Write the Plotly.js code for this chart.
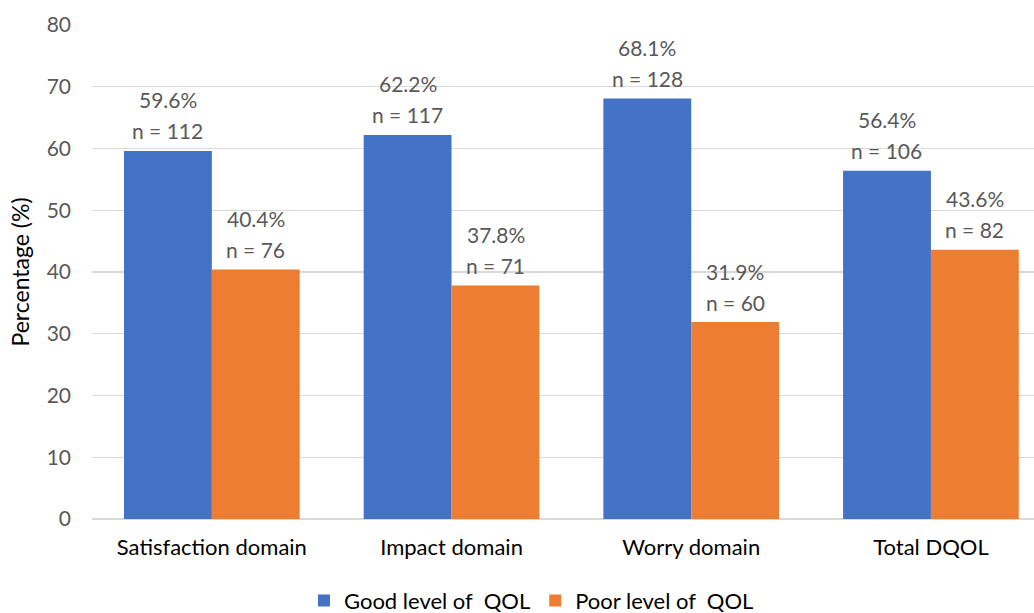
<!DOCTYPE html>
<html>
<head>
<meta charset="utf-8">
<script src="https://cdn.plot.ly/plotly-3.0.1.min.js"></script>
<style>html,body{margin:0;padding:0;background:#fff;}#chart{width:1034px;height:613px;}</style>
</head>
<body>
<div id="chart"></div>
<script>
const categories = ["Satisfaction domain", "Impact domain", "Worry domain", "Total DQOL"];
const goodPct = [59.6, 62.2, 68.1, 56.4];
const goodN = [112, 117, 128, 106];
const poorPct = [40.4, 37.8, 31.9, 43.6];
const poorN = [76, 71, 60, 82];
const seriesNames = ["Good level of  QOL", "Poor level of  QOL"];
const yTicks = [0, 10, 20, 30, 40, 50, 60, 70, 80];

const FONT = "Lato, 'Liberation Sans', sans-serif";
const FS = 22;
const colors = ["#4472C4", "#ED7D31"];

const traces = [
  {type: "bar", x: categories, y: goodPct, name: seriesNames[0], marker: {color: colors[0]}, hoverinfo: "none"},
  {type: "bar", x: categories, y: poorPct, name: seriesNames[1], marker: {color: colors[1]}, hoverinfo: "none"}
];

const annotations = [];
const groups = [[goodPct, goodN, -44], [poorPct, poorN, 44]];
groups.forEach(([pcts, ns, xs]) => {
  categories.forEach((c, i) => {
    annotations.push({x: c, y: pcts[i], xref: "x", yref: "y", text: pcts[i].toFixed(1) + "%",
      showarrow: false, xshift: xs, yshift: 51, yanchor: "middle",
      font: {family: FONT, size: 21, color: "#595959"}});
    annotations.push({x: c, y: pcts[i], xref: "x", yref: "y", text: "n = " + ns[i],
      showarrow: false, xshift: xs, yshift: 20, yanchor: "middle",
      font: {family: FONT, size: 21, color: "#595959"}});
  });
});

const layout = {
  width: 1034, height: 613,
  margin: {l: 92, r: 0, t: 25, b: 94},
  paper_bgcolor: "#ffffff", plot_bgcolor: "#ffffff",
  font: {family: FONT, size: FS, color: "#000000"},
  barmode: "group",
  bargap: 0.267, bargroupgap: 0,
  xaxis: {
    type: "category", range: [-0.5, 3.43],
    showgrid: false, showline: false, zeroline: false, ticks: "",
    ticklabelstandoff: 13,
    tickfont: {family: FONT, size: FS, color: "#000000"}
  },
  yaxis: {
    range: [0, 80], tickvals: yTicks, ticktext: yTicks.map(String),
    showgrid: true, gridcolor: "#d9d9d9", gridwidth: 1.3,
    zeroline: true, zerolinecolor: "#d9d9d9", zerolinewidth: 1.3,
    showline: false, ticks: "", ticklabelstandoff: 20,
    tickfont: {family: FONT, size: 21, color: "#595959"},
    title: {text: "Percentage (%)", font: {family: FONT, size: 23, color: "#000000"}, standoff: 10}
  },
  showlegend: true,
  legend: {
    orientation: "h", xref: "container", yref: "container",
    x: 0.514, xanchor: "center", y: 0.02, yanchor: "middle",
    font: {family: FONT, size: FS, color: "#000000"},
    itemwidth: 30, tracegroupgap: 0
  },
  annotations: annotations
};

Plotly.newPlot("chart", traces, layout, {displayModeBar: false, staticPlot: true});
</script>
</body>
</html>
